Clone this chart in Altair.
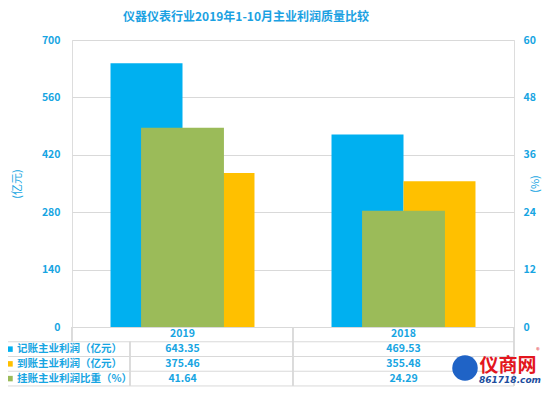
import altair as alt
import pandas as pd

categories = ['2019', '2018']
series = ['记账主业利润（亿元）', '到账主业利润（亿元）', '挂账主业利润比重（%）']
booked_profit = [643.35, 469.53]
received_profit = [375.46, 355.48]
unpaid_share = [41.64, 24.29]
left_ticks = [0, 140, 280, 420, 560, 700]
right_ticks = [0, 12, 24, 36, 48, 60]
colors = ['#00B0F0', '#FFC000', '#9BBB59']

TXT = '#17A5E2'
FONT = 'Noto Sans CJK SC'
GRID = '#D9D9D9'
W, H = 442, 287

profit_df = pd.DataFrame({
    'category': categories * 2,
    'series': [series[0]] * 2 + [series[1]] * 2,
    'value': booked_profit + received_profit,
})
share_df = pd.DataFrame({'category': categories, 'share': unpaid_share})

xenc = alt.X('category:N', sort=categories,
             scale=alt.Scale(domain=categories, paddingInner=0, paddingOuter=0), axis=None)

bars = alt.Chart(profit_df).mark_bar().encode(
    x=xenc,
    xOffset=alt.XOffset('series:N', sort=series[:2],
                        scale=alt.Scale(domain=series[:2], paddingInner=0, paddingOuter=0.535)),
    y=alt.Y('value:Q', scale=alt.Scale(domain=[0, 700]),
            axis=alt.Axis(orient='left', values=left_ticks, title='(亿元)', grid=True,
                          gridColor=GRID, domain=False, ticks=False, labelPadding=12,
                          labelColor=TXT, labelFontWeight='bold', labelFontSize=10.5, labelFont=FONT,
                          titleColor=TXT, titleFontWeight='normal', titleFontSize=11, titleFont=FONT,
                          titleAngle=270, titlePadding=19)),
    color=alt.Color('series:N', scale=alt.Scale(domain=series, range=colors), legend=None),
)

green = alt.Chart(share_df).mark_bar(color=colors[2], width=alt.RelativeBandSize(0.375)).encode(
    x=xenc,
    y=alt.Y('share:Q', scale=alt.Scale(domain=[0, 60]),
            axis=alt.Axis(orient='right', values=right_ticks, title='(%)', grid=False,
                          domain=False, ticks=False, labelPadding=9,
                          labelColor=TXT, labelFontWeight='bold', labelFontSize=10.5, labelFont=FONT,
                          titleColor=TXT, titleFontWeight='normal', titleFontSize=11, titleFont=FONT,
                          titleAngle=270, titlePadding=5)),
)

# data table under the plot
rows = []
for i, c in enumerate(categories):
    rows.append({'category': c, 'r': 0, 't': c})
    rows.append({'category': c, 'r': 1, 't': f'{booked_profit[i]:.2f}'})
    rows.append({'category': c, 'r': 2, 't': f'{received_profit[i]:.2f}'})
    rows.append({'category': c, 'r': 3, 't': f'{unpaid_share[i]:.2f}'})
table_df = pd.DataFrame(rows)
label_df = pd.DataFrame({'r': [1, 2, 3], 'series': series})
hline_df = pd.DataFrame({'r': [0.5, 1.5, 2.5, 3.5]})

ry = alt.Y('r:Q', scale=alt.Scale(domain=[0, 3], range=[294.4, 338.6]), axis=None)

table_values = alt.Chart(table_df).mark_text(
    color=TXT, font=FONT, fontSize=10.5, fontWeight='bold', baseline='middle').encode(
    x=xenc, y=ry, text='t:N')

table_labels = alt.Chart(label_df).mark_text(
    color=TXT, font=FONT, fontSize=10.5, fontWeight='bold', align='left', baseline='middle').encode(
    x=alt.value(-55), y=ry, text='series:N')

table_keys = alt.Chart(label_df).mark_square(size=30, opacity=1).encode(
    x=alt.value(-62), y=ry,
    color=alt.Color('series:N', scale=alt.Scale(domain=series, range=colors), legend=None))

hlines = alt.Chart(hline_df).mark_rule(color=GRID, strokeWidth=1).encode(
    x=alt.value(-70), x2=alt.value(W), y=ry)

vl = []
for xv, y0, y1 in [(-70, 301.7, 346), (58, 301.7, 346), (0, 287, 301.7), (221, 287, 346), (W, 287, 346)]:
    vl.append(alt.Chart(hline_df).mark_rule(color=GRID, strokeWidth=1).encode(
        x=alt.value(xv), y=alt.value(y0), y2=alt.value(y1)))

# watermark
wm_df = pd.DataFrame({'a': [0]})
wm_icon = alt.Chart(wm_df).mark_circle(size=650, color='#1F63C6', opacity=1).encode(
    x=alt.value(393), y=alt.value(328))
wm_name = alt.Chart(wm_df).mark_text(text='仪商网', font=FONT, fontSize=19, fontWeight='bold',
                                     color='#E3161E').encode(x=alt.value(436), y=alt.value(326))
wm_reg = alt.Chart(wm_df).mark_text(text='®', font=FONT, fontSize=7, color='#E3161E').encode(
    x=alt.value(466), y=alt.value(311))
wm_url = alt.Chart(wm_df).mark_text(text='861718.com', font='DejaVu Sans', fontSize=9,
                                    fontStyle='italic', fontWeight='bold',
                                    color='#1D4E9E').encode(x=alt.value(438), y=alt.value(340))

chart = alt.layer(bars, green, hlines, *vl, table_keys, table_labels, table_values,
                  wm_icon, wm_name, wm_reg, wm_url).resolve_scale(
    y='independent', color='shared'
).properties(
    width=W, height=H,
    title=alt.TitleParams('仪器仪表行业2019年1-10月主业利润质量比较', anchor='start', frame='group',
                          dx=51, fontSize=12, fontWeight='bold', color='#1BA1E2', font=FONT,
                          offset=11),
    autosize=alt.AutoSizeParams(type='none'),
    padding={'left': 64, 'top': 32, 'right': 28, 'bottom': 60},
).configure_view(stroke=None).configure(background='white')

chart.save('out.html', embed_options={'renderer': 'svg', 'actions': False})
